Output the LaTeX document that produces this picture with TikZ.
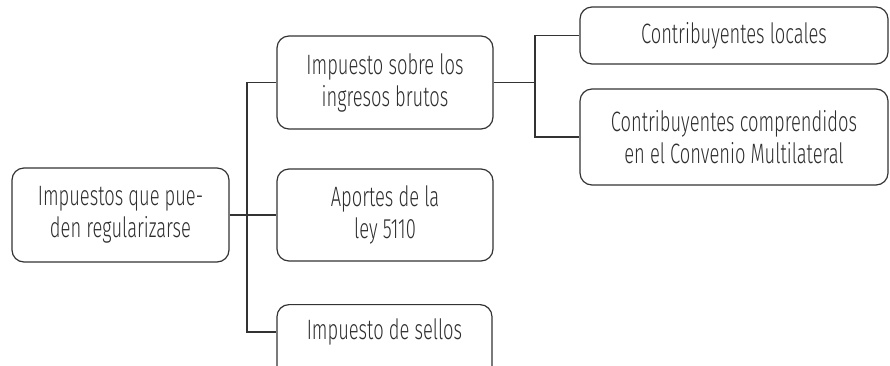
\documentclass[tikz,border=0pt]{standalone}
\usepackage{fontspec}
\setmainfont{Fira Sans Light}[FakeStretch=0.655]
\definecolor{ink}{HTML}{333333}
\definecolor{txt}{HTML}{2E2E2E}
\begin{document}
\begin{tikzpicture}[x=1pt,y=-1pt,
  box/.style={draw=ink, line width=1.2pt, rounded corners=12pt, inner sep=0pt,
    align=center, text=txt, font=\fontsize{28}{32}\selectfont},
  lbl/.style={inner sep=0pt, align=center, text=txt, font=\fontsize{28}{32}\selectfont},
  conn/.style={draw=ink, line width=1.2pt}]
\useasboundingbox (0,0) rectangle (890,365);
\node[box, minimum width=217pt, minimum height=94pt] (A) at (120.5,215) {Impuestos que pue-\\den regularizarse};
\node[box, minimum width=216pt, minimum height=93pt] (B) at (385,82.5) {Impuesto sobre los\\ingresos brutos};
\node[box, minimum width=216pt, minimum height=92pt] (E) at (385,215) {Aportes de la\\ley 5110};
\node[box, minimum width=215pt, minimum height=93pt, anchor=north] (F) at (384.5,304) {};
\node[lbl] (Ft) at (384.5,332) {Impuesto de sellos};
\node[box, minimum width=308pt, minimum height=57pt] (C) at (734,35.5) {Contribuyentes locales};
\node[box, minimum width=308pt, minimum height=96pt] (D) at (734,137) {Contribuyentes comprendidos\\en el Convenio Multilateral};
\coordinate (t1) at (247,215);
\coordinate (t2) at (535,82.5);
\draw[conn] (A.east) -- (t1);
\draw[conn] (t1) -- (E.west);
\draw[conn] (t1) |- (B.west);
\draw[conn] (t1) |- (F.west |- Ft);
\draw[conn] (B.east) -- (t2);
\draw[conn] (t2) |- (C.west);
\draw[conn] (t2) |- (D.west);
\end{tikzpicture}
\end{document}
